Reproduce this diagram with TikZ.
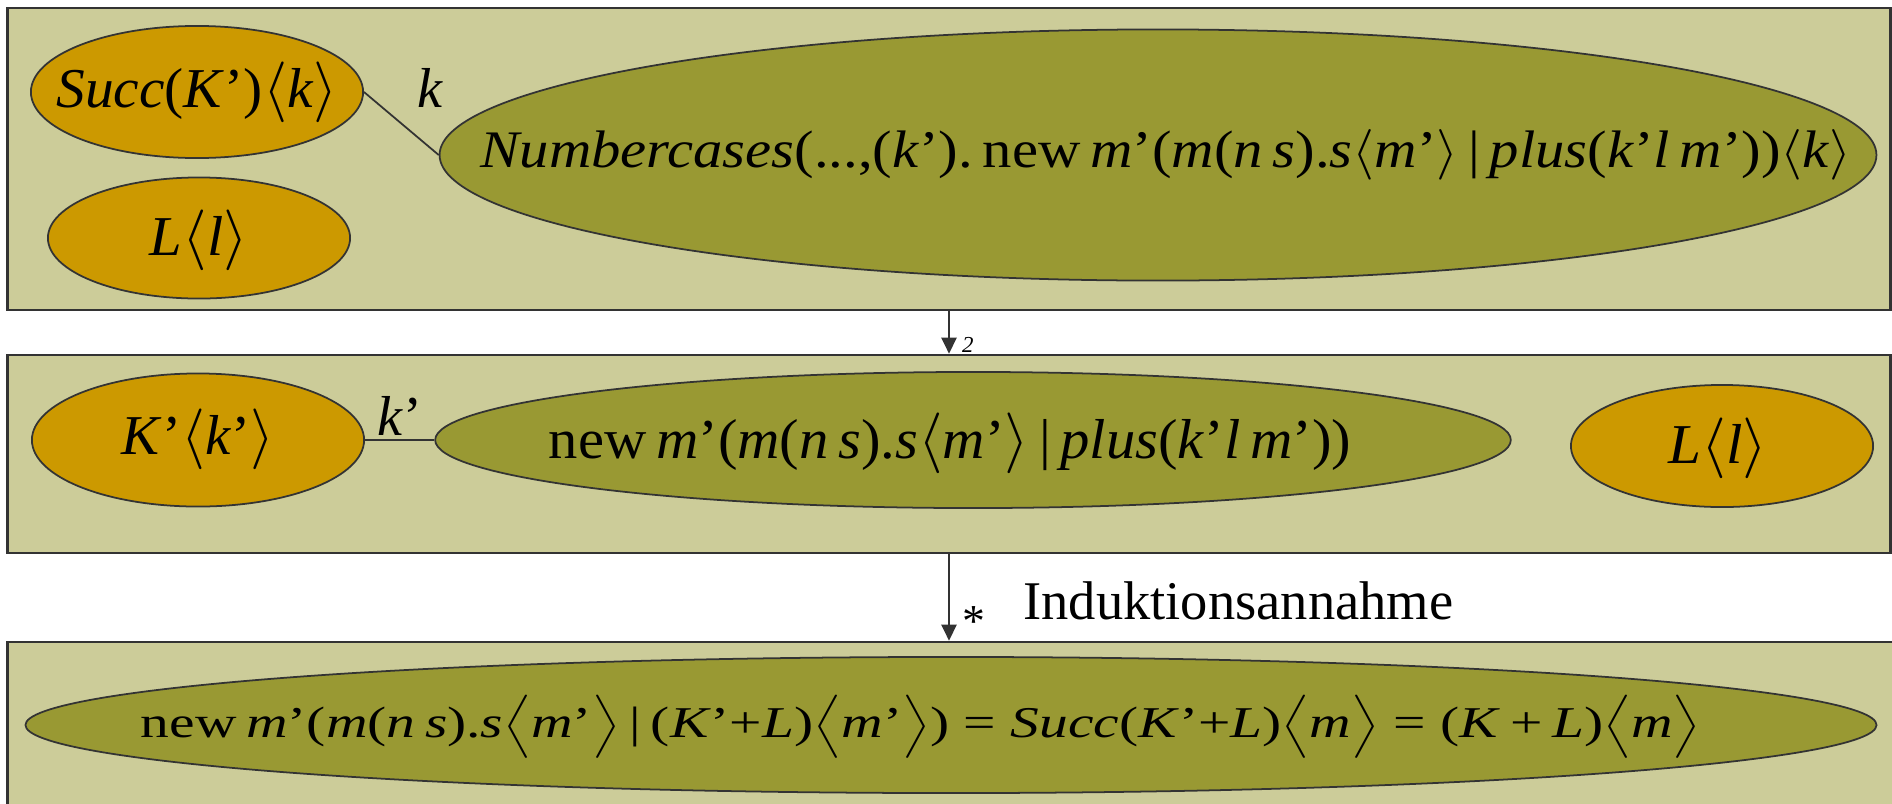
\documentclass[tikz,border=0pt]{standalone}
\usepackage{fontspec}
\setmainfont{Liberation Serif}
\usepackage{graphicx}
\usetikzlibrary{arrows.meta, positioning, shapes.geometric}

\definecolor{panelbg}{HTML}{CCCC99}
\definecolor{termbg}{HTML}{999933}
\definecolor{agentbg}{HTML}{CC9900}
\definecolor{edgegray}{HTML}{333333}

\newcommand{\vi}[1]{\textit{#1}}
\newcommand{\ang}[1]{$\bigl\langle$#1$\bigr\rangle$}
\newcommand{\Ang}[1]{$\Bigl\langle$#1$\Bigr\rangle$}
% text of a fixed width, lowered, taking no room in its ellipse
\newcommand{\fitin}[4]{\makebox[0pt]{\kern#3\raisebox{#4}[0pt][0pt]{\resizebox{#1}{\height}{#2}}}}

\begin{document}
\begin{tikzpicture}[x=0.01cm, y=-0.01cm, >={Triangle[width=0.15cm,length=0.16cm]},
    panel/.style={rectangle, draw=edgegray, fill=panelbg, line width=0.7pt, inner sep=0pt},
    term/.style={ellipse, draw=edgegray, fill=termbg, line width=0.5pt, inner sep=0pt},
    agent/.style={ellipse, draw=edgegray, fill=agentbg, line width=0.5pt, inner sep=0pt},
    conn/.style={draw=edgegray, line width=0.5pt},
    big/.style={font=\fontsize{16}{19}\selectfont}]
    \useasboundingbox (0,0) rectangle (1892,803);
    \clip (0,0) rectangle (1892,803);

    % Panels
    \node[panel, minimum width=18.82cm, minimum height=3.02cm] (p1) at (949,159) {};
    \node[panel, minimum width=18.82cm, minimum height=1.98cm] (p2) at (949,454) {};
    \node[panel, minimum width=18.92cm, minimum height=1.88cm] (p3) at (954,736) {};

    % First row
    \node[agent, big, minimum width=3.32cm, minimum height=1.32cm] (succ) at (197,92)
        {\fitin{2.81cm}{\vi{Succ}(\vi{K}')\ang{\vi{k}}}{0cm}{-0.15cm}};
    \node[agent, big, minimum width=3.02cm, minimum height=1.21cm] (ltop) at (199,238)
        {\fitin{0.98cm}{\vi{L}\ang{\vi{l}}}{0cm}{-0.17cm}};
    \node[term, font=\fontsize{15}{18}\selectfont, minimum width=14.36cm, minimum height=2.51cm] (num) at (1158,155)
        {\fitin{13.7cm}{\vi{Numbercases}(...,(\vi{k}').\,new\,\vi{m}'(\vi{m}(\vi{n}\,\vi{s}).\vi{s}\ang{\vi{m}'}\,|\,\vi{plus}(\vi{k}'\vi{l}\,\vi{m}'))\ang{\vi{k}}}{0.16cm}{-0.12cm}};
    \draw[conn] (succ.east) -- (num.west);
    \node[big] (klab) at (430,88) {\vi{k}};

    % Second row
    \node[agent, big, minimum width=3.32cm, minimum height=1.33cm] (kk) at (198,440)
        {\fitin{1.52cm}{\vi{K}'\ang{\vi{k}'}}{0cm}{-0.14cm}};
    \node[term, big, minimum width=10.75cm, minimum height=1.36cm] (mid) at (973,440)
        {\fitin{8.02cm}{new\,\vi{m}'(\vi{m}(\vi{n}\,\vi{s}).\vi{s}\ang{\vi{m}'}\,|\,\vi{plus}(\vi{k}'\vi{l}\,\vi{m}'))}{-0.46cm}{-0.18cm}};
    \node[agent, big, minimum width=3.02cm, minimum height=1.22cm] (lright) at (1722,446)
        {\fitin{0.99cm}{\vi{L}\ang{\vi{l}}}{-0.08cm}{-0.17cm}};
    \draw[conn] (kk.east) -- node[big, above, inner sep=1pt] (klab2) {\vi{k}'} (mid.west);

    % Third row
    \node[term, font=\fontsize{12.5}{15}\selectfont, minimum width=18.50cm, minimum height=1.36cm] (fin) at (951,725)
        {\fitin{15.59cm}{new\,\vi{m}'(\vi{m}(\vi{n}\,\vi{s}).\vi{s}\Ang{\vi{m}'}\,|\,(\vi{K}'+\vi{L})\Ang{\vi{m}'}) = \vi{Succ}(\vi{K}'+\vi{L})\Ang{\vi{m}} = (\vi{K}\,+\,\vi{L})\Ang{\vi{m}}}{-0.6cm}{-0.12cm}};

    % Steps
    \draw[->, conn, line width=0.6pt] (p1.south) -- node[pos=.8, right=0.12cm, inner sep=0pt, font=\fontsize{6.5}{8}\selectfont] (two) {\vi{2}} (p2.north);
    \draw[->, conn, line width=0.6pt] (p2.south) -- node[pos=.78, right=0.12cm, inner sep=0pt, font=\fontsize{13}{15}\selectfont] (star) {*} (p2.south |- p3.north);
    \node[anchor=base west, font=\fontsize{15.5}{18}\selectfont] (ind) at (1011,619) {Induktionsannahme};
\end{tikzpicture}
\end{document}
